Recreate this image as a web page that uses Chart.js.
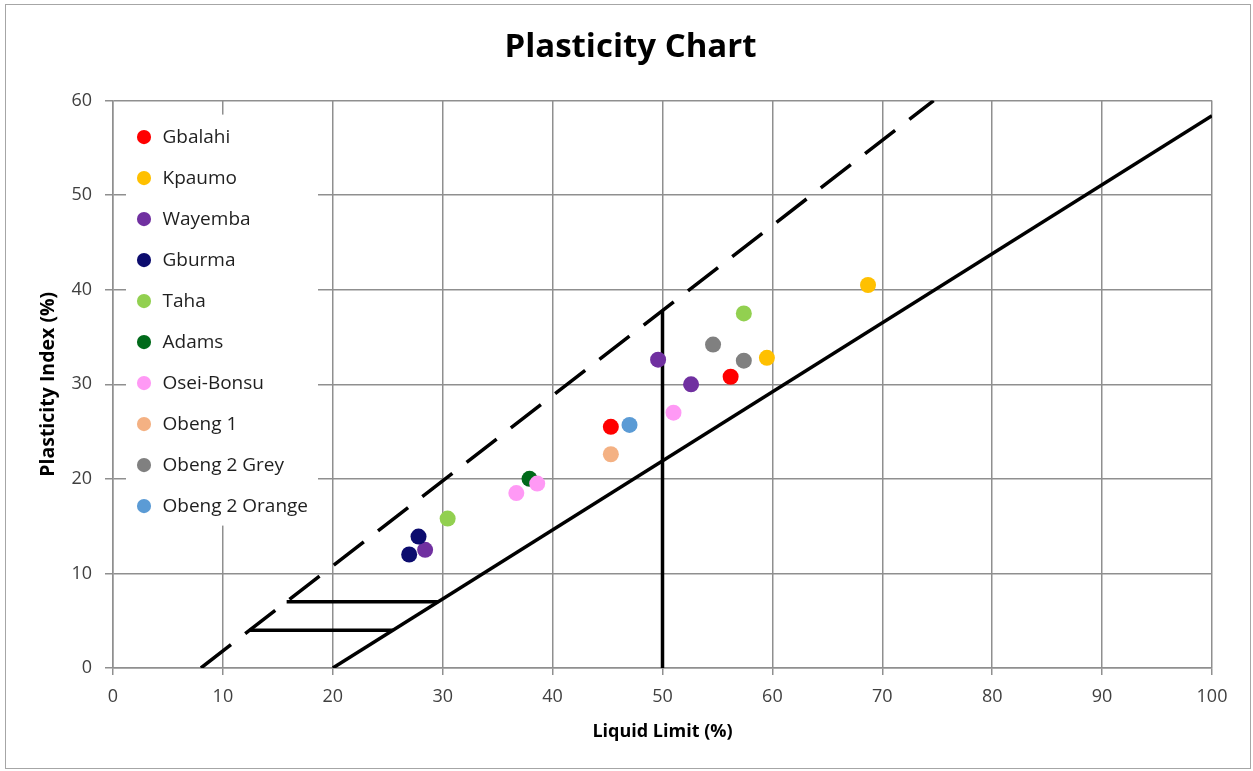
<!DOCTYPE html>
<html>
<head>
<meta charset="utf-8">
<title>Plasticity Chart</title>
<script src="https://cdn.jsdelivr.net/npm/chart.js@4.4.0/dist/chart.umd.min.js"></script>
<style>
  html, body { margin: 0; padding: 0; background: #fff; }
  #wrap { position: relative; width: 1253px; height: 771px; }
  #frame { position: absolute; left: 5px; top: 4px; width: 1246px; height: 765px; border: 1.5px solid #a6a6a6; box-sizing: border-box; }
  canvas { position: absolute; left: 0; top: 0; }
</style>
</head>
<body>
<div id="wrap">
  <div id="frame"></div>
  <canvas id="plasticity-chart" width="1253" height="771"></canvas>
</div>
<script>
/* samples */
var samples = ['Gbalahi', 'Kpaumo', 'Wayemba', 'Gburma', 'Taha', 'Adams', 'Osei-Bonsu', 'Obeng 1', 'Obeng 2 Grey', 'Obeng 2 Orange'];
var liquidLimit = [
  [45.3, 56.2],
  [68.7, 59.5],
  [49.6, 52.6, 28.4],
  [27.8, 26.95],
  [57.4, 30.45],
  [37.9],
  [51.0, 38.6, 36.7],
  [45.3],
  [54.6, 57.4],
  [47.0]
];
var plasticityIndex = [
  [25.5, 30.8],
  [40.5, 32.8],
  [32.6, 30.0, 12.5],
  [13.9, 12.0],
  [37.5, 15.8],
  [20.0],
  [27.0, 19.5, 18.5],
  [22.6],
  [34.2, 32.5],
  [25.7]
];
var sampleColors = ['#ff0000', '#ffc000', '#7030a0', '#0c0c6e', '#92d050', '#006a1a', '#ff99f5', '#f4b183', '#808080', '#5b9bd5'];

/* classification lines */
var aLineLL = [20, 100],        aLinePI = [0, 58.4];
var uLineLL = [8, 74.67],       uLinePI = [0, 60];
var dividerLL = [50, 50],       dividerPI = [0, 37.8];
var upperBandLL = [15.8, 29.6], upperBandPI = [7, 7];
var lowerBandLL = [12.4, 25.5], lowerBandPI = [4, 4];

function toPoints(xs, ys) {
  return xs.map(function (x, i) { return { x: x, y: ys[i] }; });
}

Chart.defaults.font.family = "'Open Sans', sans-serif";

var datasets = samples.map(function (name, i) {
  return {
    label: name,
    data: toPoints(liquidLimit[i], plasticityIndex[i]),
    backgroundColor: sampleColors[i],
    borderColor: sampleColors[i],
    borderWidth: 0,
    pointStyle: 'circle',
    pointRadius: 8,
    pointHoverRadius: 8,
    order: samples.length - i
  };
});

function lineSet(name, xs, ys, dash) {
  return {
    label: name,
    data: toPoints(xs, ys),
    showLine: true,
    borderColor: '#000',
    backgroundColor: '#000',
    borderWidth: 3.5,
    borderDash: dash || [],
    pointRadius: 0,
    pointHoverRadius: 0,
    fill: false,
    order: 50
  };
}

datasets.push(lineSet('A-line', aLineLL, aLinePI));
datasets.push(lineSet('U-line', uLineLL, uLinePI, [38, 18]));
datasets.push(lineSet('LL 50', dividerLL, dividerPI));
datasets.push(lineSet('band 7', upperBandLL, upperBandPI));
datasets.push(lineSet('band 4', lowerBandLL, lowerBandPI));

/* legend inside the plot with a white box behind it, like excel */
var legendBackdrop = {
  id: 'legendBackdrop',
  afterLayout: function (chart) {
    var legend = chart.legend;
    if (!legend) return;
    var h = legend.bottom - legend.top;
    legend.top = chart.chartArea.top;
    legend.bottom = legend.top + h;
  },
  beforeDatasetsDraw: function (chart) {
    var legend = chart.legend;
    var boxes = legend && legend.legendHitBoxes;
    if (!boxes || !boxes.length) return;
    var left = Math.min.apply(null, boxes.map(function (b) { return b.left; })) - 9;
    var right = Math.max.apply(null, boxes.map(function (b) { return b.left + b.width; })) + 10;
    var top = boxes[0].top - 13;
    var last = boxes[boxes.length - 1];
    var bottom = last.top + last.height + 10;
    var ctx = chart.ctx;
    ctx.save();
    ctx.fillStyle = '#fff';
    ctx.fillRect(left, top, right - left, bottom - top);
    ctx.restore();
    legend.draw();
  }
};

var gridGrey = '#8f8f8f';

var ctx = document.getElementById('plasticity-chart').getContext('2d');
var chart = new Chart(ctx, {
  type: 'scatter',
  data: { datasets: datasets },
  plugins: [legendBackdrop],
  options: {
    responsive: false,
    animation: false,
    events: [],
    layout: { padding: { left: 8, right: 0, top: 0, bottom: 0 } },
    plugins: {
      tooltip: { enabled: false },
      title: {
        display: true,
        text: 'Plasticity Chart',
        color: '#000',
        font: { size: 33, weight: 'bold' },
        padding: { top: 28, bottom: 33 }
      },
      legend: {
        position: 'chartArea',
        align: 'start',
        title: { display: true, text: ' ', font: { size: 1, lineHeight: 1 }, padding: { top: 0, bottom: 4 } },
        labels: {
          usePointStyle: true,
          boxWidth: 18,
          boxHeight: 10,
          padding: 22,
          color: '#1f1f1f',
          font: { size: 19 },
          filter: function (item) { return item.datasetIndex < samples.length; },
          sort: function (a, b) { return a.datasetIndex - b.datasetIndex; }
        }
      }
    },
    scales: {
      x: {
        type: 'linear',
        min: 0,
        max: 100,
        ticks: { stepSize: 10, color: '#404040', font: { size: 18 }, padding: 11 },
        grid: { color: gridGrey, lineWidth: 1.5, tickLength: 7 },
        border: { color: gridGrey, width: 1.5 },
        title: {
          display: true,
          text: 'Liquid Limit (%)',
          color: '#000',
          font: { size: 18, weight: 'bold' },
          padding: { top: 0, bottom: 28 }
        },
        afterFit: function (scale) { scale.height = 103; }
      },
      y: {
        type: 'linear',
        min: 0,
        max: 60,
        ticks: { stepSize: 10, color: '#404040', font: { size: 18 }, padding: 13 },
        grid: { color: gridGrey, lineWidth: 1.5, tickLength: 8 },
        border: { color: gridGrey, width: 1.5 },
        title: {
          display: true,
          text: 'Plasticity Index (%)',
          color: '#000',
          font: { size: 19.5, weight: 'bold' },
          padding: { top: 29, bottom: 0 }
        },
        afterFit: function (scale) { scale.width = 105; }
      },
      yRight: {
        type: 'linear',
        position: 'right',
        grid: { display: false },
        border: { display: false },
        ticks: { display: false },
        afterFit: function (scale) { scale.width = 41; }
      }
    }
  }
});
</script>
</body>
</html>
